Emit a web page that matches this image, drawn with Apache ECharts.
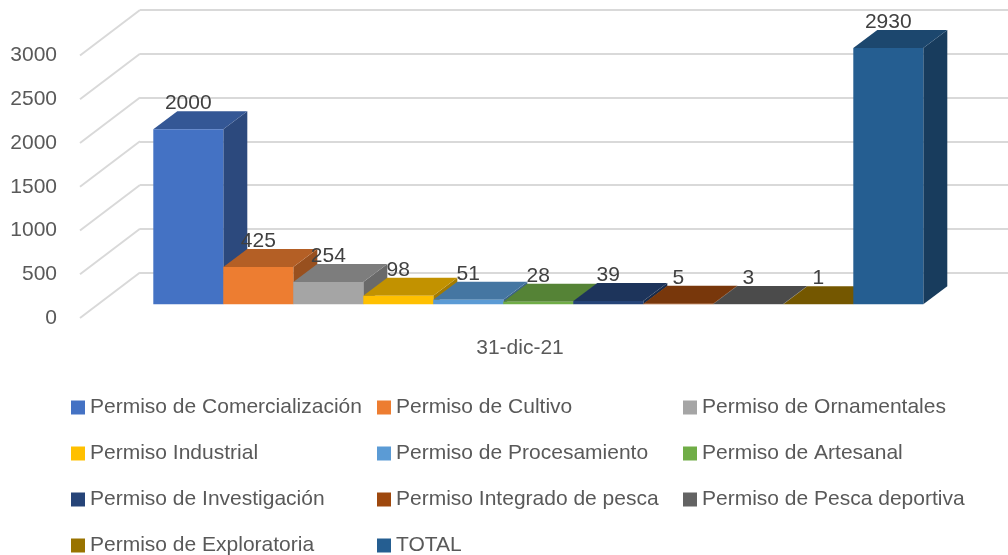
<!DOCTYPE html>
<html>
<head>
<meta charset="utf-8">
<script src="https://cdn.jsdelivr.net/npm/echarts@6/dist/echarts.min.js"></script>
<style>
html,body{margin:0;padding:0;background:#fff;}
#chart{width:1008px;height:555px;}
</style>
</head>
<body>
<div id="chart"></div>
<script>
// ---- data ----
var categories = ['31-dic-21'];
var seriesNames = [
  'Permiso de Comercialización',
  'Permiso de Cultivo',
  'Permiso de Ornamentales',
  'Permiso Industrial',
  'Permiso de Procesamiento',
  'Permiso de Artesanal',
  'Permiso de Investigación',
  'Permiso Integrado de pesca',
  'Permiso de Pesca deportiva',
  'Permiso de Exploratoria',
  'TOTAL'
];
var seriesValues = [2000, 425, 254, 98, 51, 28, 39, 5, 3, 1, 2930];
var seriesColors = ['#4472C4', '#ED7D31', '#A5A5A5', '#FFC000', '#5B9BD5', '#70AD47',
                    '#264478', '#9E480E', '#636363', '#997300', '#255E91'];
var yTicks = [0, 500, 1000, 1500, 2000, 2500, 3000];
var legendCol1 = [seriesNames[0], seriesNames[3], seriesNames[6], seriesNames[9]];
var legendCol2 = [seriesNames[1], seriesNames[4], seriesNames[7], seriesNames[10]];
var legendCol3 = [seriesNames[2], seriesNames[5], seriesNames[8]];

// ---- style helpers ----
var FONT = 'Liberation Sans';
var BAR_FRAC = 70 / 880;      // bar width as fraction of the category band
var FRONT = [18.3, -13.7];    // bar front plane offset from floor front
var DEPTH = [24, -18];        // bar depth offset
var WALL = [60, -45.5];       // floor depth (front to back wall)

function shade(hex, f) {
  var n = parseInt(hex.slice(1), 16);
  var r = Math.round(((n >> 16) & 255) * f);
  var g = Math.round(((n >> 8) & 255) * f);
  var b = Math.round((n & 255) * f);
  return 'rgb(' + r + ',' + g + ',' + b + ')';
}

var nBars = seriesValues.length;

function makeBarRender(idx) {
  return function (params, api) {
    var v = api.value(1);
    var base = api.coord([api.value(0), 0]);
    var top = api.coord([api.value(0), v]);
    var band = api.size([1, 0])[0];
    var bw = band * BAR_FRAC;
    var fx = base[0] + FRONT[0] - nBars * bw / 2 + idx * bw;
    var yb = base[1] + FRONT[1];
    var yt = top[1] + FRONT[1];
    var c = seriesColors[idx];
    var dx = DEPTH[0], dy = DEPTH[1];
    return {
      type: 'group',
      children: [
        {
          type: 'polygon',
          shape: { points: [[fx + bw, yt], [fx + bw, yb], [fx + bw + dx, yb + dy], [fx + bw + dx, yt + dy]] },
          style: { fill: shade(c, 0.64) }
        },
        {
          type: 'polygon',
          shape: { points: [[fx, yt], [fx + bw, yt], [fx + bw + dx, yt + dy], [fx + dx, yt + dy]] },
          style: { fill: shade(c, 0.76) }
        },
        {
          type: 'rect',
          shape: { x: fx, y: yt, width: bw, height: Math.max(yb - yt, 0) },
          style: { fill: c }
        },
        {
          type: 'text',
          x: fx + bw / 2,
          y: yt + dy - 8,
          style: {
            text: String(v),
            fill: '#404040',
            font: '21px "' + FONT + '"',
            align: 'center',
            verticalAlign: 'middle'
          },
          z2: 10
        }
      ]
    };
  };
}

var series = [];
// slanted floor-to-wall gridlines
series.push({
  name: '_grid',
  type: 'custom',
  xAxisIndex: 0,
  yAxisIndex: 0,
  z: 1,
  silent: true,
  data: yTicks.map(function (t) { return [0, t]; }),
  renderItem: function (params, api) {
    var p = api.coord([0, api.value(1)]);
    var x0 = params.coordSys.x;
    return {
      type: 'line',
      shape: { x1: x0 - WALL[0], y1: p[1] - WALL[1], x2: x0, y2: p[1] },
      style: { stroke: '#D9D9D9', lineWidth: 2 }
    };
  }
});
seriesNames.forEach(function (name, i) {
  series.push({
    name: name,
    type: 'custom',
    xAxisIndex: 1,
    yAxisIndex: 1,
    z: 2,
    itemStyle: { color: seriesColors[i] },
    encode: { x: 0, y: 1 },
    data: [[0, seriesValues[i]]],
    renderItem: makeBarRender(i)
  });
});

function legendCol(left, data) {
  return {
    orient: 'vertical',
    left: left,
    top: 397,
    width: 320,
    height: 300,
    padding: 0,
    icon: 'rect',
    itemWidth: 14,
    itemHeight: 14,
    itemGap: 25,
    data: data,
    textStyle: { color: '#595959', fontSize: 21, fontFamily: FONT, lineHeight: 20 },
    selectedMode: false
  };
}

var option = {
  animation: false,
  color: seriesColors,
  grid: [
    { left: 140, top: 10, right: 0, height: 262.5 },   // back wall
    { left: 80, top: 55.5, width: 880, height: 262.5 } // front plane
  ],
  xAxis: [
    { gridIndex: 0, type: 'category', data: categories, show: false },
    {
      gridIndex: 1, type: 'category', data: categories,
      axisLine: { show: false }, axisTick: { show: false },
      axisLabel: { color: '#595959', fontSize: 21, fontFamily: FONT, margin: 20 }
    }
  ],
  yAxis: [
    {
      gridIndex: 0, type: 'value', min: 0, max: 3000, interval: 500,
      axisLine: { show: false }, axisTick: { show: false }, axisLabel: { show: false },
      splitLine: { show: true, lineStyle: { color: '#D9D9D9', width: 2 } }
    },
    {
      gridIndex: 1, type: 'value', min: 0, max: 3000, interval: 500,
      axisLine: { show: false }, axisTick: { show: false }, splitLine: { show: false },
      axisLabel: {
        color: '#595959', fontSize: 21, fontFamily: FONT, margin: 23,
        formatter: function (val) { return String(val); }
      }
    }
  ],
  legend: [
    legendCol(71, legendCol1),
    legendCol(377, legendCol2),
    legendCol(683, legendCol3)
  ],
  series: series
};

var chart = echarts.init(document.getElementById('chart'), null, { renderer: 'canvas' });
chart.setOption(option);
</script>
</body>
</html>
